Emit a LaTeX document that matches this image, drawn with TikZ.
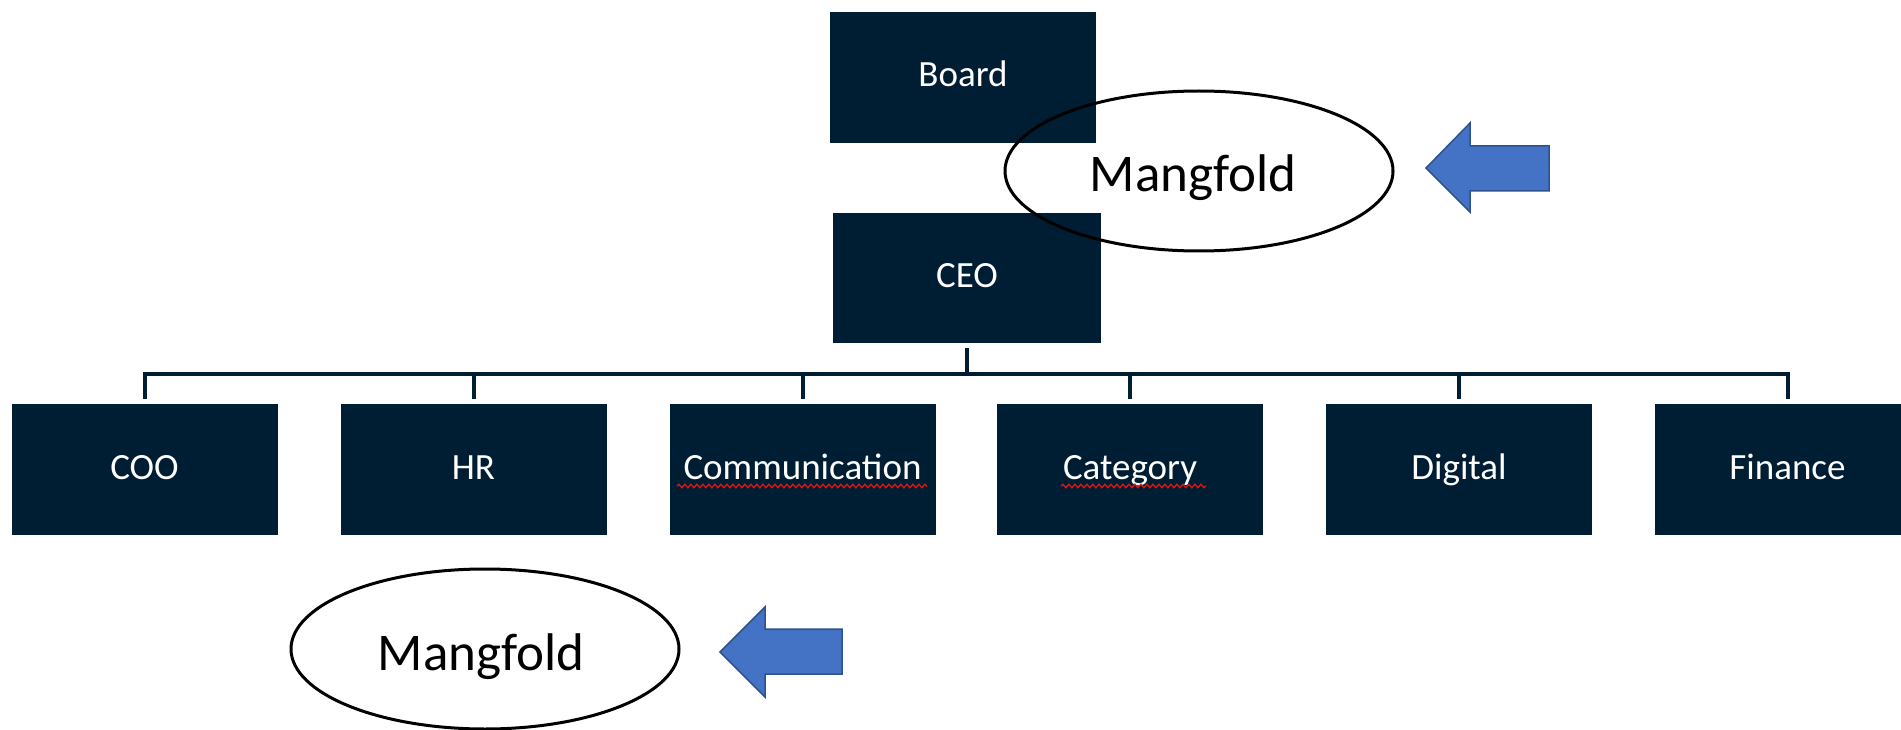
\documentclass[tikz,border=0pt]{standalone}
\usepackage{fontspec}
\setmainfont{Carlito}
\usetikzlibrary{shapes.geometric,decorations.pathmorphing}
\definecolor{navy}{RGB}{0,30,51}
\definecolor{arrowblue}{RGB}{68,114,196}
\definecolor{arrowedge}{RGB}{47,82,143}
\definecolor{squig}{RGB}{210,20,20}
\tikzset{
  orgbox/.style={rectangle, fill=navy, text=white, inner sep=0pt,
    minimum width=266pt, minimum height=131pt,
    text height=26pt, text depth=7pt,
    font=\fontsize{37}{44}\selectfont},
  conn/.style={draw=navy, line width=4pt, shorten <=5pt, shorten >=5pt},
  mangring/.style={ellipse, draw=black, line width=3pt, inner sep=0pt,
    minimum width=388pt, minimum height=160pt,
    text height=50pt, text depth=8pt,
    font=\fontsize{53}{60}\selectfont},
  blockarrow/.style={fill=arrowblue, draw=arrowedge, line width=1.5pt, line join=miter},
  spell/.style={draw=squig, line width=1.5pt, decorate,
    decoration={snake, amplitude=1.6pt, segment length=6pt}}
}
\begin{document}
\begin{tikzpicture}[x=1pt,y=-1pt]
\useasboundingbox (0,0) rectangle (1901,730);
\clip (0,0) rectangle (1901,730);
% top boxes
\node[orgbox] (board) at (963,77.5) {Board};
\node[orgbox, minimum width=268pt, minimum height=130pt] (ceo) at (967,278) {CEO};
% children
\node[orgbox, text height=27pt] (coo)  at (144.5,469.5) {COO};
\node[orgbox, text height=27pt] (hr)   at (473.5,469.5) {HR};
\node[orgbox, text height=27pt] (comm) at (802.5,469.5) {Communication};
\node[orgbox, text height=27pt] (cat)  at (1130,469.5) {Category};
\node[orgbox, text height=27pt] (dig)  at (1459,469.5) {Digital};
\node[orgbox, text height=27pt] (fin)  at (1787.5,469.5) {Finance};
% connectors
\foreach \c in {coo,hr,comm,cat,dig,fin}{
  \draw[conn] (ceo.south) -- ++(0,31) -| (\c.north);
}
% spellcheck squiggles
\coordinate (cs) at (677,486);
\coordinate (ce) at (927,486);
\draw[spell] (cs) -- (ce);
\coordinate (gs) at (1061,486);
\coordinate (ge) at (1206,486);
\draw[spell] (gs) -- (ge);
% ellipses
\node[mangring] (m1) at (1199,171) {\hspace*{-12pt}Mangfold};
\node[mangring] (m2) at (485,649) {\hspace*{-8pt}Mangfold};
% arrows
\draw[blockarrow] (1426,168) -- (1470,123) -- (1470,146) -- (1549,146)
  -- (1549,191) -- (1470,191) -- (1470,212) -- cycle;
\draw[blockarrow] (720,652) -- (765,607) -- (765,629) -- (842,629)
  -- (842,674) -- (765,674) -- (765,697) -- cycle;
\end{tikzpicture}
\end{document}
